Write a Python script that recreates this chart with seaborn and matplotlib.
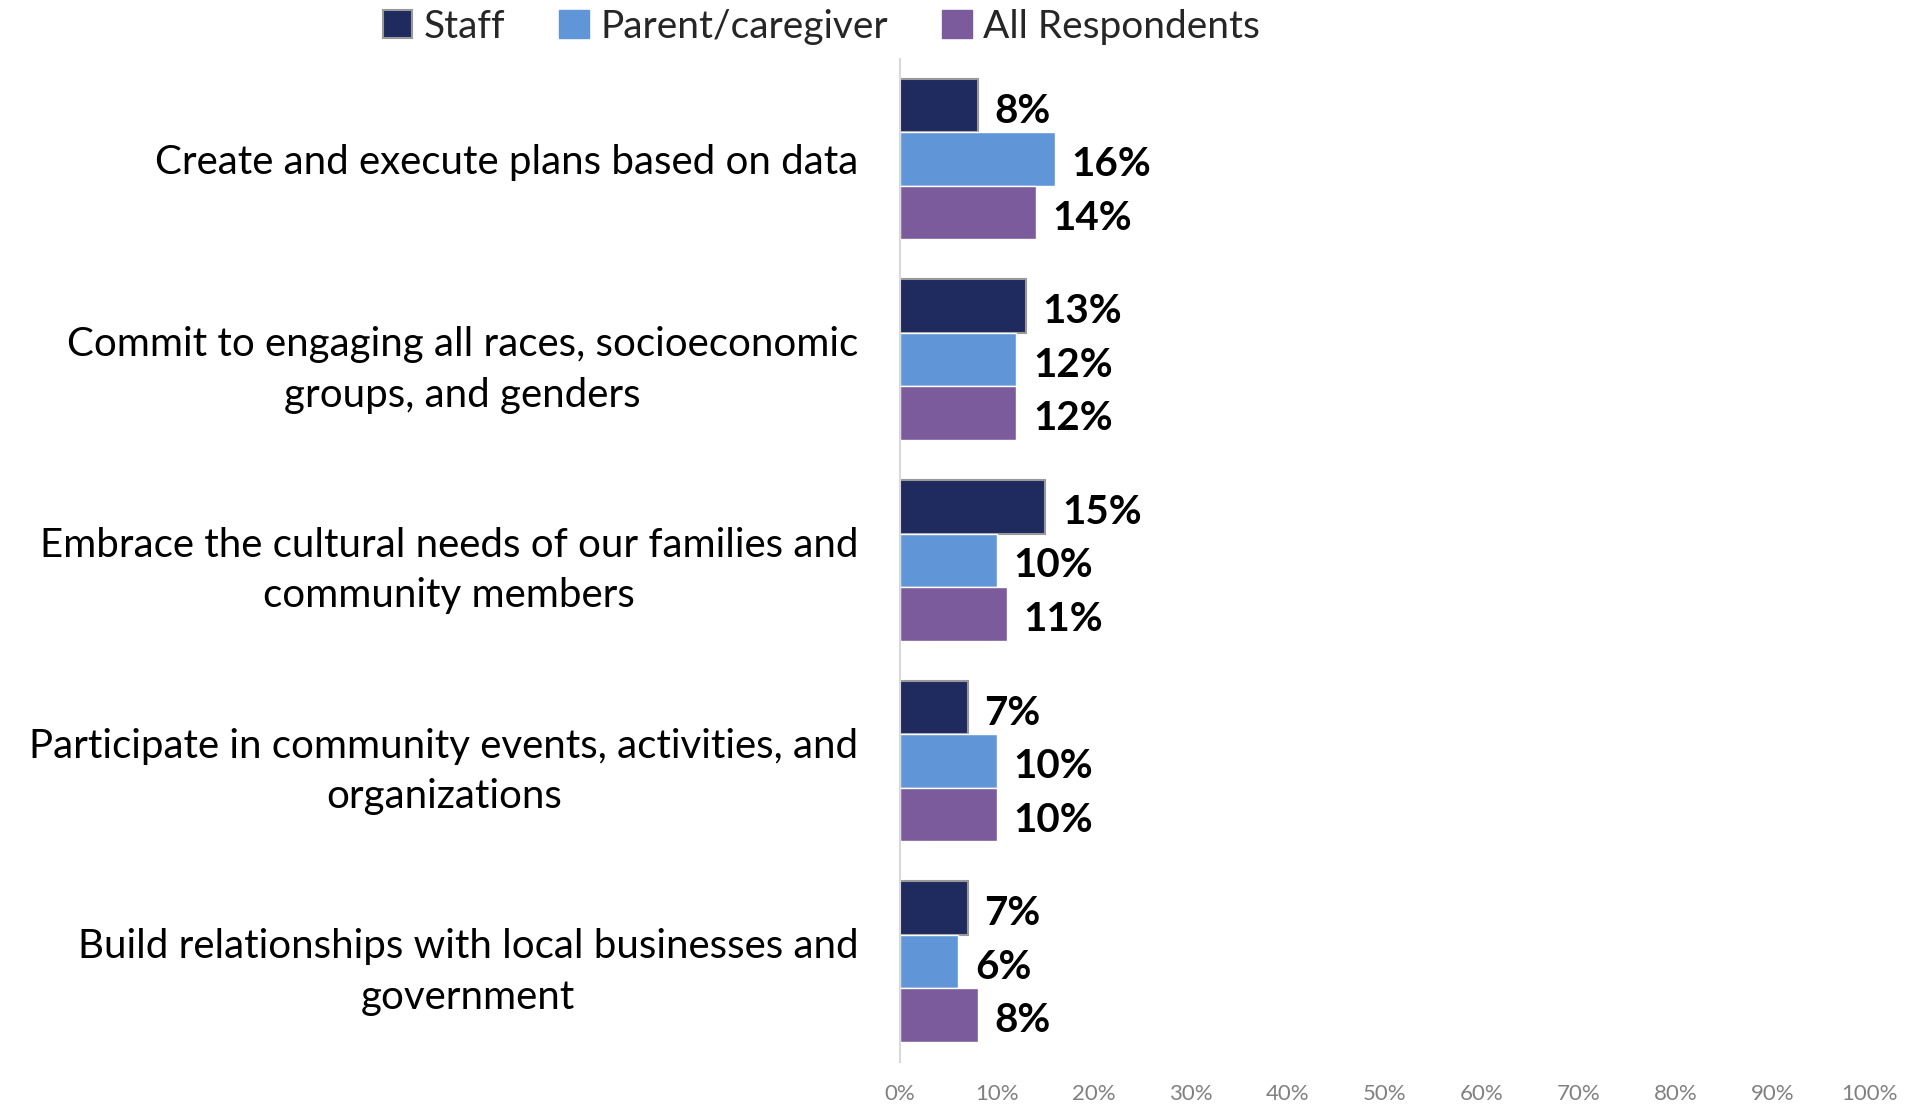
import matplotlib
matplotlib.use("Agg")
import matplotlib.pyplot as plt
import seaborn as sns
import pandas as pd
from matplotlib.patches import Patch

categories = [
    "Create and execute plans based on data",
    "Commit to engaging all races, socioeconomic\ngroups, and genders",
    "Embrace the cultural needs of our families and\ncommunity members",
    "Participate in community events, activities, and\norganizations",
    "Build relationships with local businesses and\ngovernment",
]
series = ["Staff", "Parent/caregiver", "All Respondents"]
staff = [8, 13, 15, 7, 7]
parent = [16, 12, 10, 10, 6]
all_resp = [14, 12, 11, 10, 8]
x_ticks = [0, 10, 20, 30, 40, 50, 60, 70, 80, 90, 100]
colors = ["#1F2A5E", "#6096D8", "#7B5B9B"]

rows = []
for name, vals in zip(series, [staff, parent, all_resp]):
    for cat, v in zip(categories, vals):
        rows.append({"category": cat, "group": name, "value": v})
df = pd.DataFrame(rows)

sns.set_theme(style="white")
plt.rcParams["font.family"] = ["Lato", "DejaVu Sans"]

fig = plt.figure(figsize=(19.19, 11.08), dpi=100)
ax = fig.add_axes([0.469, 0.0415, 0.505, 0.9055])

sns.barplot(data=df, y="category", x="value", hue="group", order=categories,
            hue_order=series, palette=colors, orient="h", width=0.8,
            saturation=1, ax=ax, legend=False)

# gray outline on the Staff bars
for p in ax.containers[0]:
    p.set_edgecolor("#999999")
    p.set_linewidth(1.5)

for cont in ax.containers:
    labels = [f"{int(round(v.get_width()))}%" for v in cont]
    anns = ax.bar_label(cont, labels=labels, padding=12, fontsize=29,
                        fontweight="bold", color="black")
    for a in anns:
        a.xyann = (12, -4)

ax.set_xlim(0, 100)
ax.set_xticks(x_ticks)
ax.set_xticklabels([f"{t}%" for t in x_ticks], fontsize=16, color="#808080")
ax.tick_params(axis="x", length=0, pad=16)
ax.tick_params(axis="y", length=0, pad=30)
ax.set_yticks(range(len(categories)))
ax.set_yticklabels(categories, fontsize=29, color="black", ha="right",
                   multialignment="center", linespacing=1.45)
ax.set_xlabel("")
ax.set_ylabel("")
for s in ["top", "right", "bottom"]:
    ax.spines[s].set_visible(False)
ax.spines["left"].set_color("#d9d9d9")
ax.spines["left"].set_linewidth(1.5)
ax.set_ylim(4.5, -0.5)

handles = [
    Patch(facecolor=colors[0], edgecolor="#999999", linewidth=1.5),
    Patch(facecolor=colors[1], edgecolor=colors[1]),
    Patch(facecolor=colors[2], edgecolor=colors[2]),
]
fig.legend(handles, series, loc="center", bbox_to_anchor=(0.428, 0.976),
           ncol=3, frameon=False, fontsize=28, handlelength=0.75,
           handleheight=0.75, handletextpad=0.3, columnspacing=1.4)

fig.savefig("out.png", dpi=100, facecolor="white")
